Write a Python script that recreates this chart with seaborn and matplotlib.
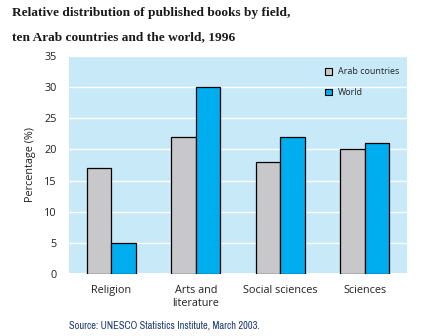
import matplotlib
matplotlib.use("Agg")
import matplotlib.pyplot as plt
import seaborn as sns
import pandas as pd
from matplotlib.patches import Patch

fields = ["Religion", "Arts and\nliterature", "Social sciences", "Sciences"]
arab_countries = [17, 22, 18, 20]
world = [5, 30, 22, 21]
series_names = ["Arab countries", "World"]
yticks = [0, 5, 10, 15, 20, 25, 30, 35]

df = pd.DataFrame({
    "field": fields * 2,
    "value": arab_countries + world,
    "series": [series_names[0]] * len(fields) + [series_names[1]] * len(fields),
})

sns.set_theme(style="white")
plt.rcParams["font.family"] = ["Open Sans", "DejaVu Sans"]

colors = {"Arab countries": "#C8C8CA", "World": "#00AEEF"}
bg = "#C7E9F8"

fig = plt.figure(figsize=(4.26, 3.36), dpi=100)
ax = fig.add_axes([69 / 426, 1 - 274 / 336, 338 / 426, 218 / 336])
ax.set_facecolor(bg)

sns.barplot(data=df, x="field", y="value", hue="series", palette=colors,
            saturation=1, width=0.58, gap=0, edgecolor="black", linewidth=0.9,
            ax=ax, legend=False, zorder=3)

ax.set_ylim(0, 35)
ax.set_xlim(-0.5, 3.5)
ax.set_yticks(yticks)
ax.yaxis.grid(True, color="white", linewidth=1.0, zorder=0)
ax.set_axisbelow(True)
for s in ax.spines.values():
    s.set_visible(False)
ax.axhline(0, color="white", linewidth=1.5, zorder=2)

ax.tick_params(axis="y", length=0, pad=9, labelsize=7.8, colors="#222222")
ax.tick_params(axis="x", length=0, pad=8, labelsize=7.8, colors="#222222")
ax.set_xlabel("")
ax.set_ylabel("Percentage (%)", fontsize=7.8, color="#222222", labelpad=6)

handles = [Patch(facecolor=colors[n], edgecolor="black", linewidth=0.8, label=n)
           for n in series_names]
ax.legend(handles=handles, loc="upper right", bbox_to_anchor=(1.0, 0.985),
          frameon=False, fontsize=6.5, handlelength=0.8, handleheight=0.8,
          labelspacing=1.3, handletextpad=0.6)

title_font = dict(fontsize=9.6, fontweight="bold", family=["Liberation Serif", "DejaVu Serif"],
                  color="#1a1a1a", va="center", ha="left")
fig.text(12 / 426, 1 - 13 / 336, "Relative distribution of published books by field,", **title_font)
fig.text(12 / 426, 1 - 37 / 336, "ten Arab countries and the world, 1996", **title_font)
fig.text(69 / 426, 1 - 325 / 336, "Source: UNESCO Statistics Institute, March 2003.",
         fontsize=7.5, color="#1f3a70", va="center", ha="left",
         family=["Archivo Narrow", "DejaVu Sans"])

fig.savefig("out.png", dpi=100, facecolor="white")
